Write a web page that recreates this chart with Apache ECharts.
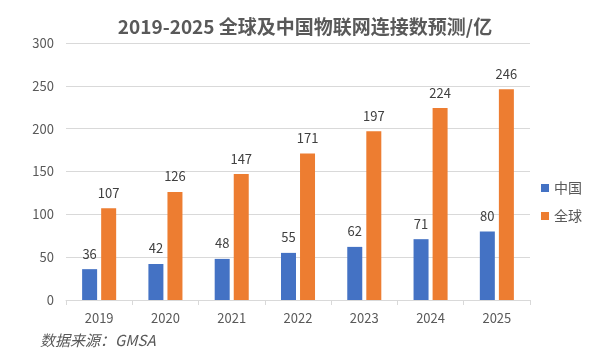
<!DOCTYPE html>
<html>
<head>
<meta charset="utf-8">
<script src="https://cdn.jsdelivr.net/npm/echarts@6/dist/echarts.min.js"></script>
<style>
  html, body { margin: 0; padding: 0; background: #fff; }
  #chart { width: 590px; height: 354px; }
</style>
</head>
<body>
<div id="chart"></div>
<script>
var years = ["2019", "2020", "2021", "2022", "2023", "2024", "2025"];
var china = [36, 42, 48, 55, 62, 71, 80];
var world = [107, 126, 147, 171, 197, 224, 246];

var chart = echarts.init(document.getElementById("chart"));
var font = "'Microsoft YaHei', 'Noto Sans CJK SC', sans-serif";
var option = {
  animation: false,
  textStyle: { fontFamily: font },
  title: {
    text: "2019-2025 全球及中国物联网连接数预测/亿",
    left: 300,
    textAlign: "center",
    top: 12,
    textStyle: { fontSize: 19, fontWeight: "bold", color: "#595959", fontFamily: font }
  },
  legend: {
    orient: "vertical",
    left: 536,
    top: 176,
    itemWidth: 8,
    itemHeight: 8,
    itemGap: 14,
    icon: "rect",
    textStyle: { fontSize: 14, color: "#595959", fontFamily: font },
    data: ["中国", "全球"]
  },
  graphic: [{
    type: "text",
    left: 40,
    top: 333,
    style: { text: "数据来源：GMSA", fontSize: 15, fontStyle: "italic", fill: "#595959", fontFamily: font }
  }],
  grid: { left: 66, right: 60, top: 43, bottom: 54 },
  xAxis: {
    type: "category",
    data: years,
    axisLine: { lineStyle: { color: "#d9d9d9" } },
    axisTick: { show: true, length: 5, lineStyle: { color: "#d9d9d9" } },
    axisLabel: { color: "#595959", fontSize: 13, margin: 12 }
  },
  yAxis: {
    type: "value",
    min: 0,
    max: 300,
    interval: 50,
    axisLine: { show: false },
    axisTick: { show: false },
    axisLabel: { color: "#595959", fontSize: 13, margin: 12 },
    splitLine: { lineStyle: { color: "#d9d9d9" } }
  },
  series: [
    {
      name: "中国",
      type: "bar",
      data: china,
      barWidth: 15,
      barGap: "27%",
      itemStyle: { color: "#4472C4" },
      label: { show: true, position: "top", distance: 9, color: "#404040", fontSize: 13 }
    },
    {
      name: "全球",
      type: "bar",
      data: world,
      barWidth: 15,
      itemStyle: { color: "#ED7D31" },
      label: { show: true, position: "top", distance: 9, color: "#404040", fontSize: 13 }
    }
  ]
};
chart.setOption(option);
</script>
</body>
</html>
